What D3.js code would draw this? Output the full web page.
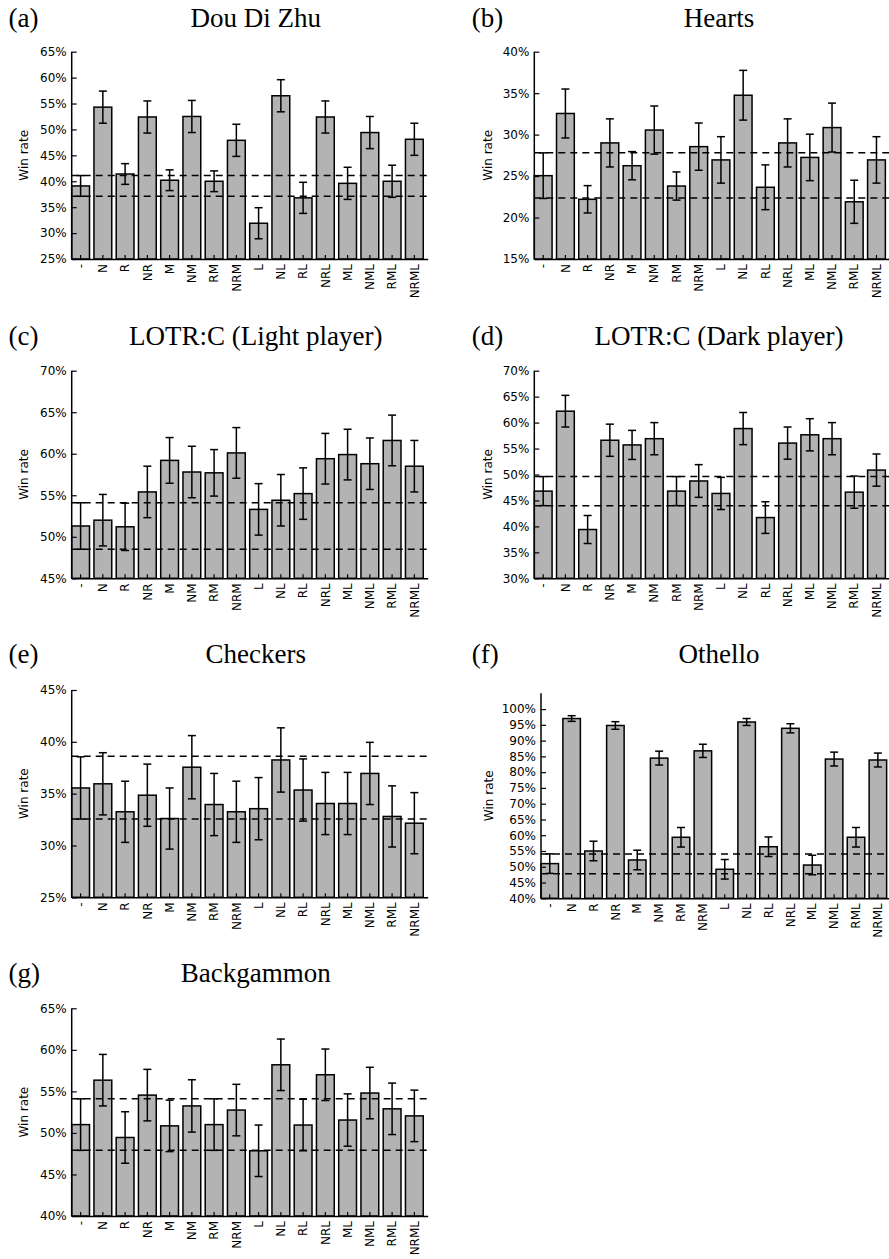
<!DOCTYPE html>
<html>
<head>
<meta charset="utf-8">
<script src="https://cdn.jsdelivr.net/npm/d3@7"></script>
<style>
  html, body { margin: 0; padding: 0; background: #ffffff; }
  svg { display: block; }
</style>
</head>
<body>
<svg id="chart" width="889" height="1259"></svg>
<script>
// ---------------- DATA ----------------
const categories = ["-", "N", "R", "NR", "M", "NM", "RM", "NRM", "L", "NL", "RL", "NRL", "ML", "NML", "RML", "NRML"];

// (a) Dou Di Zhu
const ddzWin = [39.1, 54.3, 41.4, 52.4, 40.2, 52.5, 40.0, 47.9, 31.9, 56.5, 36.8, 52.4, 39.6, 49.4, 40.0, 48.1];
const ddzErr = [2.0, 3.1, 2.0, 3.1, 2.0, 3.1, 2.0, 3.1, 3.0, 3.1, 3.0, 3.1, 3.1, 3.1, 3.1, 3.1];
const ddzRef = [37.1, 41.1];
const ddzTicks = [25, 30, 35, 40, 45, 50, 55, 60, 65];

// (b) Hearts
const heartsWin = [25.05, 32.55, 22.2, 29.0, 26.25, 30.55, 23.8, 28.55, 26.95, 34.75, 23.65, 29.0, 27.25, 30.85, 21.9, 26.95];
const heartsErr = [2.75, 2.95, 1.65, 2.9, 1.7, 2.9, 1.7, 2.85, 2.8, 3.0, 2.7, 2.9, 2.8, 2.95, 2.6, 2.8];
const heartsRef = [22.35, 27.8];
const heartsTicks = [15, 20, 25, 30, 35, 40];

// (c) LOTR:C (Light player)
const lightWin = [51.3, 52.0, 51.2, 55.4, 59.2, 57.8, 57.7, 60.1, 53.3, 54.4, 55.2, 59.4, 59.9, 58.8, 61.6, 58.5];
const lightErr = [2.8, 3.1, 2.85, 3.1, 2.75, 3.1, 2.8, 3.05, 3.1, 3.1, 3.1, 3.05, 3.05, 3.1, 3.05, 3.1];
const lightRef = [48.5, 54.1];
const lightTicks = [45, 50, 55, 60, 65, 70];

// (d) LOTR:C (Dark player)
const darkWin = [46.8, 62.2, 39.4, 56.6, 55.7, 56.9, 46.8, 48.75, 46.35, 58.85, 41.7, 56.05, 57.65, 56.9, 46.6, 50.85];
const darkErr = [2.8, 3.05, 2.7, 3.1, 2.8, 3.1, 2.8, 3.15, 3.1, 3.1, 3.05, 3.1, 3.1, 3.1, 3.1, 3.1];
const darkRef = [44.0, 49.6];
const darkTicks = [30, 35, 40, 45, 50, 55, 60, 65, 70];

// (e) Checkers
const checkersWin = [35.55, 35.95, 33.25, 34.85, 32.6, 37.55, 33.95, 33.25, 33.55, 38.25, 35.35, 34.05, 34.05, 36.95, 32.8, 32.15];
const checkersErr = [3.0, 3.0, 2.95, 3.0, 2.95, 3.05, 3.0, 2.95, 3.0, 3.1, 3.0, 3.0, 3.0, 3.0, 2.95, 2.95];
const checkersRef = [32.55, 38.6];
const checkersTicks = [25, 30, 35, 40, 45];

// (f) Othello
const othelloWin = [51.0, 97.0, 55.0, 94.8, 52.15, 84.45, 59.35, 86.75, 49.2, 95.9, 56.35, 93.9, 50.55, 84.15, 59.35, 83.85];
const othelloErr = [3.1, 0.9, 3.1, 1.2, 3.1, 2.2, 3.1, 2.1, 3.1, 1.1, 3.1, 1.45, 3.1, 2.2, 3.1, 2.2];
const othelloRef = [47.8, 54.05];
const othelloTicks = [40, 45, 50, 55, 60, 65, 70, 75, 80, 85, 90, 95, 100];

// (g) Backgammon
const backgammonWin = [51.0, 56.35, 49.45, 54.55, 50.85, 53.25, 51.0, 52.75, 47.85, 58.2, 50.95, 57.0, 51.55, 54.8, 52.9, 52.05];
const backgammonErr = [3.1, 3.1, 3.1, 3.1, 3.1, 3.15, 3.1, 3.1, 3.1, 3.1, 3.1, 3.1, 3.15, 3.1, 3.1, 3.1];
const backgammonRef = [47.9, 54.1];
const backgammonTicks = [40, 45, 50, 55, 60, 65];

// ---------------- PANELS ----------------
const panels = [
  { tag: "(a)", title: "Dou Di Zhu", win: ddzWin, err: ddzErr, ref: ddzRef, ticks: ddzTicks, domain: [25, 65],
    left: 71.7, right: 427.7, top: 51.7, bottom: 259, tagX: 8.5, titleX: 255.7, titleY: 26.7, ylabX: 24 },
  { tag: "(b)", title: "Hearts", win: heartsWin, err: heartsErr, ref: heartsRef, ticks: heartsTicks, domain: [15, 40],
    left: 534.3, right: 889.8, top: 51.7, bottom: 259, tagX: 471.7, titleX: 719, titleY: 26.7, ylabX: 487.7 },
  { tag: "(c)", title: "LOTR:C (Light player)", win: lightWin, err: lightErr, ref: lightRef, ticks: lightTicks, domain: [45, 70],
    left: 71.7, right: 427.7, top: 370.7, bottom: 578.3, tagX: 8.5, titleX: 255.7, titleY: 345, ylabX: 24 },
  { tag: "(d)", title: "LOTR:C (Dark player)", win: darkWin, err: darkErr, ref: darkRef, ticks: darkTicks, domain: [30, 70],
    left: 534.3, right: 889.8, top: 370.7, bottom: 578.3, tagX: 471.7, titleX: 719, titleY: 345, ylabX: 487.7 },
  { tag: "(e)", title: "Checkers", win: checkersWin, err: checkersErr, ref: checkersRef, ticks: checkersTicks, domain: [25, 45],
    left: 71.7, right: 427.7, top: 690, bottom: 897.3, tagX: 8.5, titleX: 255.7, titleY: 663.3, ylabX: 24 },
  { tag: "(f)", title: "Othello", win: othelloWin, err: othelloErr, ref: othelloRef, ticks: othelloTicks, domain: [40, 105],
    left: 541, right: 891, top: 693.3, bottom: 898.3, tagX: 471.7, titleX: 719, titleY: 663.3, ylabX: 488.3 },
  { tag: "(g)", title: "Backgammon", win: backgammonWin, err: backgammonErr, ref: backgammonRef, ticks: backgammonTicks, domain: [40, 65],
    left: 71.7, right: 427.7, top: 1008.3, bottom: 1216, tagX: 8.5, titleX: 255.7, titleY: 981.7, ylabX: 24 }
];

const svg = d3.select("#chart");
const sans = "'DejaVu Sans', sans-serif";
const serif = "'Liberation Serif', 'Times New Roman', serif";

panels.forEach(p => {
  const g = svg.append("g");
  const x = d3.scaleBand().domain(categories).range([p.left, p.right])
    .paddingInner(0.2).paddingOuter(0.1).align(0);
  const y = d3.scaleLinear().domain(p.domain).range([p.bottom, p.top]);

  // titles
  g.append("text").attr("x", p.tagX).attr("y", p.titleY)
    .attr("font-family", serif).attr("font-size", 27).attr("fill", "#000").text(p.tag);
  g.append("text").attr("x", p.titleX).attr("y", p.titleY).attr("text-anchor", "middle")
    .attr("font-family", serif).attr("font-size", 27).attr("fill", "#000").text(p.title);

  // bars
  const rows = categories.map((c, i) => ({ c, v: p.win[i], e: p.err[i] }));
  g.append("g").selectAll("rect").data(rows).join("rect")
    .attr("x", d => x(d.c))
    .attr("y", d => y(d.v))
    .attr("width", x.bandwidth())
    .attr("height", d => y(p.domain[0]) - y(d.v))
    .attr("fill", "#b3b3b3").attr("stroke", "#000").attr("stroke-width", 1.5);

  // error bars
  const eb = g.append("g").attr("stroke", "#000").attr("stroke-width", 1.5);
  const cx = d => x(d.c) + x.bandwidth() / 2;
  eb.selectAll("line.v").data(rows).join("line").attr("class", "v")
    .attr("x1", cx).attr("x2", cx)
    .attr("y1", d => y(d.v + d.e)).attr("y2", d => y(d.v - d.e));
  eb.selectAll("line.t").data(rows).join("line").attr("class", "t")
    .attr("x1", d => cx(d) - 4).attr("x2", d => cx(d) + 4)
    .attr("y1", d => y(d.v + d.e)).attr("y2", d => y(d.v + d.e));
  eb.selectAll("line.b").data(rows).join("line").attr("class", "b")
    .attr("x1", d => cx(d) - 4).attr("x2", d => cx(d) + 4)
    .attr("y1", d => y(d.v - d.e)).attr("y2", d => y(d.v - d.e));

  // reference dashed lines
  g.append("g").selectAll("line").data(p.ref).join("line")
    .attr("x1", p.left).attr("x2", p.right)
    .attr("y1", d => y(d)).attr("y2", d => y(d))
    .attr("stroke", "#000").attr("stroke-width", 1.5).attr("stroke-dasharray", "7,5");

  // y axis
  const yAxis = d3.axisLeft(y).tickValues(p.ticks).tickFormat(d => d + "%").tickSize(-5).tickPadding(5);
  const ya = g.append("g").attr("transform", `translate(${p.left},0)`).call(yAxis);
  ya.select(".domain").attr("d", `M0,${p.bottom}V${p.top}`).attr("stroke-width", 1.5);
  ya.selectAll(".tick line").attr("stroke-width", 1.2);
  ya.selectAll("text").attr("font-family", sans).attr("font-size", 12).attr("fill", "#000");

  // x axis
  const xAxis = d3.axisBottom(x).tickSize(-4).tickPadding(5).tickSizeOuter(0);
  const xa = g.append("g").attr("transform", `translate(0,${p.bottom})`).call(xAxis);
  xa.select(".domain").attr("stroke-width", 1.5);
  xa.selectAll(".tick line").attr("stroke-width", 1.2);
  xa.selectAll("text")
    .attr("font-family", sans).attr("font-size", 12).attr("fill", "#000")
    .attr("transform", "rotate(-90)")
    .attr("text-anchor", "end")
    .attr("x", -5).attr("y", 0).attr("dy", "0.35em");

  // y label
  g.append("text")
    .attr("transform", `translate(${p.ylabX},${(p.top + p.bottom) / 2}) rotate(-90)`)
    .attr("text-anchor", "middle").attr("dy", "0.35em")
    .attr("font-family", sans).attr("font-size", 12).attr("fill", "#000")
    .text("Win rate");
});
</script>
</body>
</html>
